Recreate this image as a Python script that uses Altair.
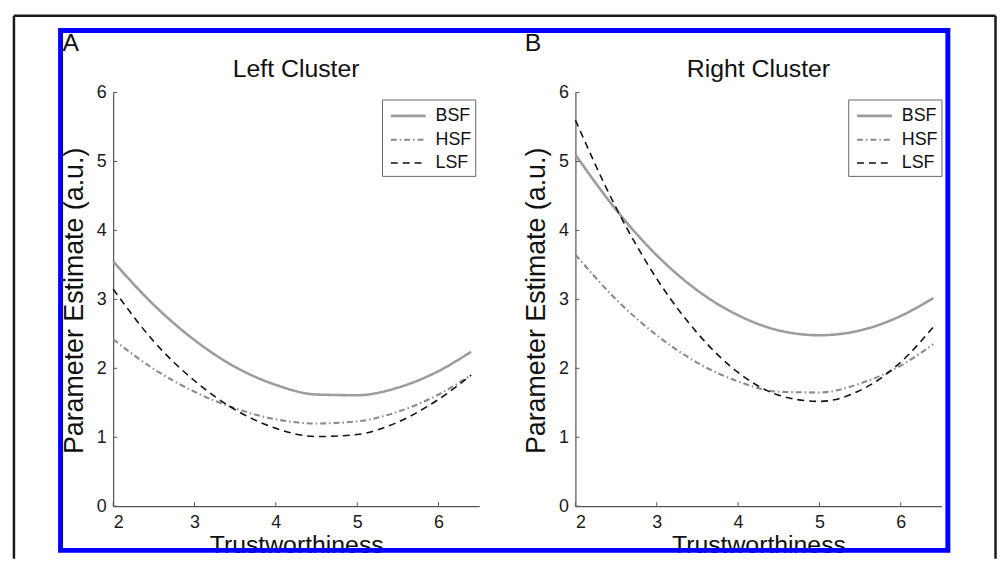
import altair as alt
import pandas as pd

# ---- data ----
x_vals = [2.0, 2.5, 3.0, 3.5, 4.0, 4.5, 5.0, 5.5, 6.0, 6.4]
left_bsf = [3.55, 2.92, 2.41, 2.02, 1.76, 1.62, 1.61, 1.72, 1.96, 2.24]
left_hsf = [2.42, 1.99, 1.66, 1.42, 1.26, 1.20, 1.23, 1.37, 1.62, 1.90]
left_lsf = [3.15, 2.39, 1.82, 1.40, 1.13, 1.01, 1.04, 1.22, 1.55, 1.90]
right_bsf = [5.10, 4.30, 3.64, 3.13, 2.77, 2.55, 2.48, 2.55, 2.76, 3.02]
right_hsf = [3.65, 3.00, 2.48, 2.08, 1.81, 1.66, 1.65, 1.78, 2.04, 2.35]
right_lsf = [5.60, 4.33, 3.30, 2.51, 1.94, 1.61, 1.52, 1.68, 2.09, 2.60]
series = ["BSF", "HSF", "LSF"]
x_ticks = [2, 3, 4, 5, 6]
y_ticks = [0, 1, 2, 3, 4, 5, 6]
panel_titles = ["Left Cluster", "Right Cluster"]
panel_letters = ["A", "B"]
x_title = "Trustworthiness"
y_title = "Parameter Estimate (a.u.)"

FONT = "Liberation Sans"
W, H = 369, 417
one = pd.DataFrame({"k": [0]})

xs = alt.Scale(domain=[2, 6.5], nice=False, zero=False)
ys = alt.Scale(domain=[0, 6], nice=False, zero=False)

x_axis = alt.Axis(values=x_ticks, title=x_title, ticks=False, grid=False,
                  labelPadding=7, titleY=47, titleBaseline="alphabetic")
y_axis = alt.Axis(values=y_ticks, title=y_title, ticks=False, grid=False,
                  labelPadding=7, titleX=-31, titleY=H / 2 + 1, titleFontSize=27,
                  titleBaseline="alphabetic", titleAngle=270, titleAlign="center")


def panel(vals, title, letter, legend_x, decorate):
    df = pd.DataFrame({
        "x": x_vals * 3,
        "y": vals[0] + vals[1] + vals[2],
        "s": [s for s in series for _ in x_vals],
    })
    leg = alt.Legend(
        title=None, orient="none", legendX=legend_x, legendY=7,
        strokeColor="#666666", fillColor="white", padding=4,
        symbolType="M-1.6,0H1.6", symbolSize=484, symbolStrokeWidth=2,
        symbolOffset=10, labelOffset=15, labelFontSize=18, labelFont=FONT,
        labelColor="#111111", rowPadding=2, labelExpr="datum.label + '  '",
    )
    lines = alt.Chart(df).mark_line(interpolate="monotone").encode(
        x=alt.X("x:Q", scale=xs, axis=x_axis),
        y=alt.Y("y:Q", scale=ys, axis=y_axis),
        color=alt.Color("s:N", scale=alt.Scale(domain=series, range=["#9c9c9c", "#8a8a8a", "#111111"]), legend=leg),
        strokeDash=alt.StrokeDash("s:N", scale=alt.Scale(domain=series, range=[[1, 0], [6, 3, 1.5, 3], [7, 5]]), legend=leg),
        strokeWidth=alt.StrokeWidth("s:N", scale=alt.Scale(domain=series, range=[2.6, 1.6, 3.0]), legend=None),
    )
    xt = alt.Chart(pd.DataFrame({"t": x_ticks})).mark_rule(color="#555555", strokeWidth=1).encode(
        x=alt.X("t:Q", scale=xs, axis=x_axis), y=alt.value(H - 4), y2=alt.value(H))
    yt = alt.Chart(pd.DataFrame({"t": y_ticks})).mark_rule(color="#555555", strokeWidth=1).encode(
        y=alt.Y("t:Q", scale=ys, axis=y_axis), x=alt.value(0), x2=alt.value(4))
    txt = dict(font=FONT, fontSize=25, baseline="alphabetic", color="#111111")
    let = alt.Chart(one).mark_text(text=letter, align="left", **txt).encode(
        x=alt.value(-51), y=alt.value(-42))
    ttl = alt.Chart(one).mark_text(text=title, align="center", **txt).encode(
        x=alt.value(W / 2), y=alt.value(-16))
    layers = [lines, xt, yt, let, ttl]
    if decorate:
        blue = alt.Chart(one).mark_rect(fillOpacity=0, stroke="#0000ff", strokeWidth=5).encode(
            x=alt.value(-519), x2=alt.value(375.5), y=alt.value(-62.5), y2=alt.value(461.5))
        k = dict(color="#1a1a1a", strokeWidth=2.5)
        top = alt.Chart(one).mark_rule(**k).encode(
            x=alt.value(-566), x2=alt.value(423.5), y=alt.value(-77.5), y2=alt.value(-77.5))
        lft = alt.Chart(one).mark_rule(**k).encode(
            x=alt.value(-566), x2=alt.value(-566), y=alt.value(-77.5), y2=alt.value(470))
        rgt = alt.Chart(one).mark_rule(**k).encode(
            x=alt.value(423.5), x2=alt.value(423.5), y=alt.value(-77.5), y2=alt.value(470))
        layers += [blue, top, lft, rgt]
    return alt.layer(*layers).properties(width=W, height=H)


left = panel([left_bsf, left_hsf, left_lsf], panel_titles[0], panel_letters[0], 271, False)
right = panel([right_bsf, right_hsf, right_lsf], panel_titles[1], panel_letters[1], 275, True)

chart = alt.hconcat(left, right, spacing=97, bounds="flush").resolve_scale(
    color="independent", strokeDash="independent", strokeWidth="independent"
).resolve_legend(
    color="independent", strokeDash="independent"
).properties(
    padding={"left": 4, "top": 4, "right": 0, "bottom": 0}
).configure(
    background="white", font=FONT
).configure_view(
    stroke=None
).configure_axis(
    domainColor="#555555", domainWidth=1.2, labelFont=FONT, labelFontSize=18,
    labelColor="#1a1a1a", titleFont=FONT, titleFontSize=25, titleFontWeight="normal",
    titleColor="#111111"
)

chart.save("out.html", embed_options={"renderer": "svg", "actions": False})
